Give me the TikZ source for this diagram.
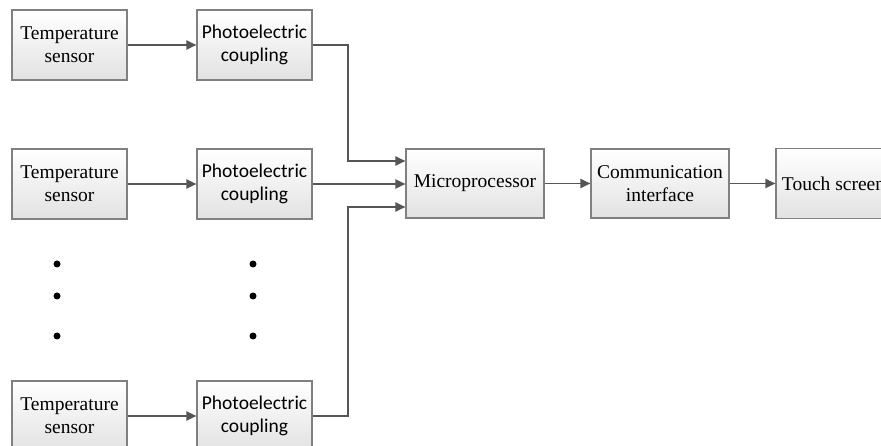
\documentclass[tikz,border=0pt]{standalone}
\usepackage{fontspec}
\setmainfont{Liberation Serif}
\newfontfamily\calfont{Carlito}
\usetikzlibrary{arrows.meta,calc}
\definecolor{boxline}{RGB}{128,128,128}
\definecolor{arrcol}{RGB}{85,85,85}
\definecolor{boxbot}{RGB}{226,226,226}
\tikzset{
  blk/.style={draw=boxline, line width=1.1pt, top color=white, bottom color=boxbot,
    minimum width=115pt, minimum height=70pt, align=center, inner sep=0pt,
    font=\fontsize{19.5}{23}\selectfont},
  wblk/.style={blk, minimum width=138pt, minimum height=69pt},
  sans/.style={font=\calfont\fontsize{19.5}{23}\selectfont},
  arr/.style={draw=arrcol, line width=1.9pt, -{Triangle[length=10pt,width=9pt]}},
  dotc/.style={circle, fill=black, inner sep=0pt, minimum size=7pt}
}
\begin{document}
\begin{tikzpicture}[x=1pt,y=-1pt]
\useasboundingbox (0,0) rectangle (881,446);
\clip (0,0) rectangle (881,446);
% sensors
\node[blk] (t1) at (69.5,45) {Temperature\\sensor};
\node[blk] (t2) at (69.5,184) {Temperature\\sensor};
\node[blk] (t3) at (69.5,416) {Temperature\\sensor};
% couplers
\node[blk,sans] (p1) at (254.5,45) {Photoelectric\\coupling};
\node[blk,sans] (p2) at (254.5,184) {Photoelectric\\coupling};
\node[blk,sans] (p3) at (254.5,416) {Photoelectric\\coupling};
% main chain
\node[wblk] (m) at (475,183.5) {Microprocessor};
\node[wblk] (c) at (660,183.5) {Communication\\interface};
\node[blk] (s) at (833.5,183.5) {Touch screen};
% dots
\node[dotc] (d1) at (57,264) {};
\node[dotc] (d2) at (57,296) {};
\node[dotc] (d3) at (57,336) {};
\node[dotc] (e1) at (253,264) {};
\node[dotc] (e2) at (253,296) {};
\node[dotc] (e3) at (253,336) {};
% coordinates
\coordinate (m1) at (m.west |- 0,161);
\coordinate (m3) at (m.west |- 0,207);
\coordinate (k1) at (348,161);
\coordinate (k3) at (348,207);
% connectors
\draw[arr] (t1) -- (p1);
\draw[arr] (t2) -- (p2);
\draw[arr] (t3) -- (p3);
\draw[arr] (p1.east) -| (k1) -- (m1);
\draw[arr] (p2.east) -- (p2.east -| m.west);
\draw[arr] (p3.east) -| (k3) -- (m3);
\draw[arr] (m) -- (c);
\draw[arr] (c) -- (s);
\end{tikzpicture}
\end{document}
